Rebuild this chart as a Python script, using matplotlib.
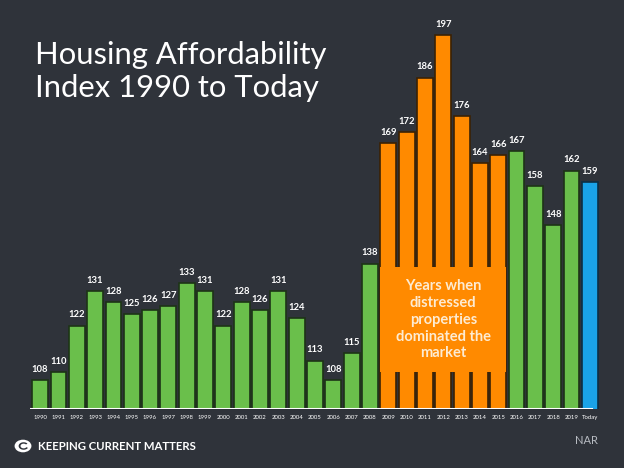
import numpy as np
import matplotlib.pyplot as plt
from matplotlib.patches import Circle, Wedge

years = ["1990", "1991", "1992", "1993", "1994", "1995", "1996", "1997", "1998", "1999",
         "2000", "2001", "2002", "2003", "2004", "2005", "2006", "2007", "2008", "2009",
         "2010", "2011", "2012", "2013", "2014", "2015", "2016", "2017", "2018", "2019", "Today"]
index_values = [108, 110, 122, 131, 128, 125, 126, 127, 133, 131,
                122, 128, 126, 131, 124, 113, 108, 115, 138, 169,
                172, 186, 197, 176, 164, 166, 167, 158, 148, 162, 159]
distressed = ["2009", "2010", "2011", "2012", "2013", "2014", "2015"]

bg = "#2f333a"
green = "#6abf4b"
orange = "#ff8a00"
blue = "#1aa3e8"

plt.rcParams["font.family"] = ["Lato", "DejaVu Sans"]

colors = []
edges = []
for y in years:
    if y in distressed:
        colors.append(orange)
        edges.append("#3a2205")
    elif y == "Today":
        colors.append(blue)
        edges.append("#0d2f44")
    else:
        colors.append(green)
        edges.append("#1d3317")

fig = plt.figure(figsize=(6.24, 4.68), dpi=100, facecolor=bg)
ax = fig.add_axes([30 / 624, 1 - 409 / 468, 570 / 624, 409 / 468])
ax.set_facecolor(bg)

x = np.arange(len(years))
ax.bar(x, index_values, width=0.86, bottom=0, color=colors, edgecolor=edges, linewidth=1.2, zorder=2)
ax.set_ylim(100.5, 206)
ax.set_xlim(-0.55, 30.55)

for xi, v in zip(x, index_values):
    ax.text(xi, v + 1.6, str(v), ha="center", va="bottom", color="white",
            fontsize=6.8, fontweight="bold", zorder=4)

# baseline
ax.axhline(100.5, color="white", lw=2.2, zorder=3, xmax=0.985)

ax.set_xticks(x)
ax.set_xticklabels(years, fontsize=4.3, color="white")
ax.tick_params(axis="x", length=0, pad=4)
ax.set_yticks([])
for s in ax.spines.values():
    s.set_visible(False)

# orange box covering the distressed years
i0 = years.index("2009")
i1 = years.index("2015")
ax.fill_between([i0 - 0.43, i1 + 0.43], 110, 137, color=orange, zorder=3, lw=0)
ax.text((i0 + i1) / 2, 123.5, "Years when\ndistressed\nproperties\ndominated the\nmarket",
        ha="center", va="center", color="#fdebd2", fontsize=10.5, fontweight="bold",
        linespacing=1.25, zorder=4)

fig.text(35 / 624, 1 - 41 / 468, "Housing Affordability\nIndex 1990 to Today",
         ha="left", va="top", color="white", fontsize=22.3, linespacing=1.2)

# logo
lx, ly = 23 / 624, 1 - 446 / 468
fig.patches.append(Circle((lx, ly), 0.0135, transform=fig.transFigure, facecolor="white", edgecolor="none"))
fig.patches.append(Wedge((lx + 0.001, ly), 0.008, 40, 330, width=0.003, transform=fig.transFigure,
                         facecolor=bg, edgecolor="none"))
fig.text(38 / 624, ly, "KEEPING CURRENT MATTERS", ha="left", va="center", color="white",
         fontsize=8.2, fontweight="bold")
fig.text(598 / 624, 1 - 440 / 468, "NAR", ha="right", va="center", color="#b8bcc2", fontsize=8)

fig.savefig("out.png", dpi=100, facecolor=bg)
